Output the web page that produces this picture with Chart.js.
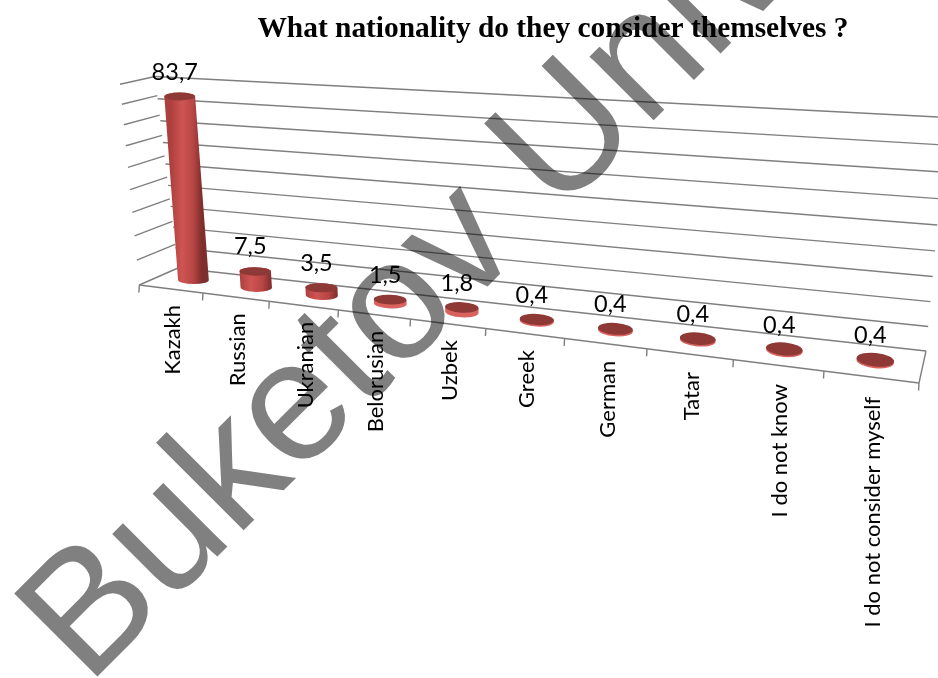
<!DOCTYPE html>
<html><head><meta charset="utf-8">
<style>html,body{margin:0;padding:0;background:#fff}canvas{display:block}</style>
<script src="https://cdn.jsdelivr.net/npm/chart.js@4/dist/chart.umd.min.js"></script>
</head><body>
<canvas id="c" width="938" height="678"></canvas>
<script>
const categories = ["Kazakh","Russian","Ukranian","Belorusian","Uzbek","Greek","German","Tatar","I do not know","I do not consider myself"];
const values = [83.7,7.5,3.5,1.5,1.8,0.4,0.4,0.4,0.4,0.4];
const chartTitle = "What nationality do they consider themselves ?";
const watermark = "Buketov University";

function quad(p0,p1,p2,p3){
  const dx1=p1[0]-p2[0],dx2=p3[0]-p2[0],sx=p0[0]-p1[0]+p2[0]-p3[0];
  const dy1=p1[1]-p2[1],dy2=p3[1]-p2[1],sy=p0[1]-p1[1]+p2[1]-p3[1];
  const den=dx1*dy2-dx2*dy1;
  const g=(sx*dy2-dx2*sy)/den,h=(dx1*sy-sx*dy1)/den;
  const a=p1[0]-p0[0]+g*p1[0],b=p3[0]-p0[0]+h*p3[0],c=p0[0];
  const d=p1[1]-p0[1]+g*p1[1],e=p3[1]-p0[1]+h*p3[1],f=p0[1];
  return (u,v)=>{const w=g*u+h*v+1;return [(a*u+b*v+c)/w,(d*u+e*v+f)/w];};
}
// Perspective planes of the 3-D look: (u along the axis, v up or into depth)
const backWall = quad([178,268],[926,351],[947,117.5],[155,76.5]);
const sideWall = quad([139.3,285],[178,268],[155,76.5],[120,84.3]);
const barPlane = quad([163,276.5],[922.5,367],[946,122],[147,80.4]);
const frontEdge = u=>{const s=0.8*u/(1-0.2*u);return [139.3+779.7*s,285+98*s];};

function drawCylinder(ctx){
  const a=this.$area, u=(this.x-a.left)/a.width, t=(a.bottom-this.y)/a.height;
  const top=barPlane(u,t), bot=barPlane(u,0);
  const hgt=Math.hypot(barPlane(u,1)[0]-bot[0],barPlane(u,1)[1]-bot[1]);
  const rx=0.0775*hgt, ry=3.8+3.2*u, rot=0.11*u;
  const g=ctx.createLinearGradient((top[0]+bot[0])/2-rx,0,(top[0]+bot[0])/2+rx,0);
  g.addColorStop(0,'#ad403e');g.addColorStop(.35,'#cf5553');g.addColorStop(.72,'#b64544');g.addColorStop(1,'#7e2e2c');
  ctx.save();
  ctx.beginPath();
  ctx.ellipse(top[0],top[1],rx,ry,rot,Math.PI,0,false);
  ctx.ellipse(bot[0],bot[1],rx,ry,rot,0,Math.PI,false);
  ctx.closePath();
  ctx.fillStyle=t<0.02?'#d9625f':g;
  ctx.fill();
  ctx.beginPath();
  ctx.ellipse(top[0],top[1]-(t<0.02?0.6:0),rx,ry,rot,0,Math.PI*2);
  ctx.fillStyle='#8f3937';
  ctx.fill();
  ctx.restore();
}

const perspective = {
  id:'perspective',
  beforeDraw(chart){
    const ctx=chart.ctx, a=chart.chartArea, x=chart.scales.x, y=chart.scales.y, n=categories.length;
    ctx.save();
    ctx.fillStyle='#fff';ctx.fillRect(0,0,chart.width,chart.height);
    ctx.strokeStyle='#7f7f7f';ctx.lineWidth=1.4;
    const seg=(p,q)=>{ctx.beginPath();ctx.moveTo(p[0],p[1]);ctx.lineTo(q[0],q[1]);ctx.stroke();};
    y.ticks.forEach(tk=>{
      const t=(a.bottom-y.getPixelForValue(tk.value))/a.height;
      seg(sideWall(0,t),sideWall(1,t));
      seg(backWall(0,t),backWall(1,t));
    });
    seg(frontEdge(0),frontEdge(1));
    seg(frontEdge(1),backWall(1,0));
    for(let i=0;i<=n;i++){const p=frontEdge(i/n);seg(p,[p[0]-0.4,p[1]+7.5]);}
    ctx.restore();
    // place tick labels along the projected front edge
    x._computeLabelArea=()=>null;
    const items=x.getLabelItems();
    if(!items.$done){
      items.forEach((it,i)=>{
        const u=(x.getPixelForTick(i)-a.left)/a.width, p=frontEdge(u);
        it.options.translation=[p[0]-11,p[1]+16+4.5*u*u*u];
      });
      items.$done=true;
    }
    chart.getDatasetMeta(0).data.forEach(el=>{el.$area=a;el.draw=drawCylinder;});
  },
  afterDatasetsDraw(chart){
    const ctx=chart.ctx,a=chart.chartArea;
    ctx.save();
    ctx.font='23.5px Lato';ctx.fillStyle='#000';ctx.textAlign='center';ctx.textBaseline='alphabetic';
    chart.getDatasetMeta(0).data.forEach((el,i)=>{
      const p=barPlane((el.x-a.left)/a.width,(a.bottom-el.y)/a.height);
      ctx.fillText(String(values[i]).replace('.',','),p[0]-5,p[1]-17);
    });
    ctx.restore();
  },
  afterDraw(chart){
    const ctx=chart.ctx;
    ctx.save();
    ctx.globalCompositeOperation='multiply';
    ctx.fillStyle='#808080';
    ctx.font='171px "Liberation Sans"';
    ctx.translate(87.5,686.5);ctx.rotate(-Math.PI/4);
    ctx.fillText(watermark,0,0);
    ctx.restore();
  }
};

new Chart(document.getElementById('c'),{
  type:'bar',
  data:{labels:categories,datasets:[{data:values,backgroundColor:'#c0504d',clip:false}]},
  plugins:[perspective],
  options:{
    responsive:false,animation:false,
    layout:{padding:{left:168,right:0,top:0,bottom:0}},
    plugins:{
      legend:{display:false},tooltip:{enabled:false},
      title:{display:true,text:chartTitle,color:'#000',font:{family:'"Liberation Serif"',size:29.4,weight:'bold'},padding:{top:12,bottom:10}}
    },
    scales:{
      x:{grid:{display:false},border:{display:false},
         ticks:{color:'#000',autoSkip:false,minRotation:90,maxRotation:90,font:{family:'Lato',size:22}}},
      y:{min:0,max:90,grid:{display:false},border:{display:false},
         ticks:{display:false,stepSize:10}}
    }
  }
});
</script>
</body></html>
